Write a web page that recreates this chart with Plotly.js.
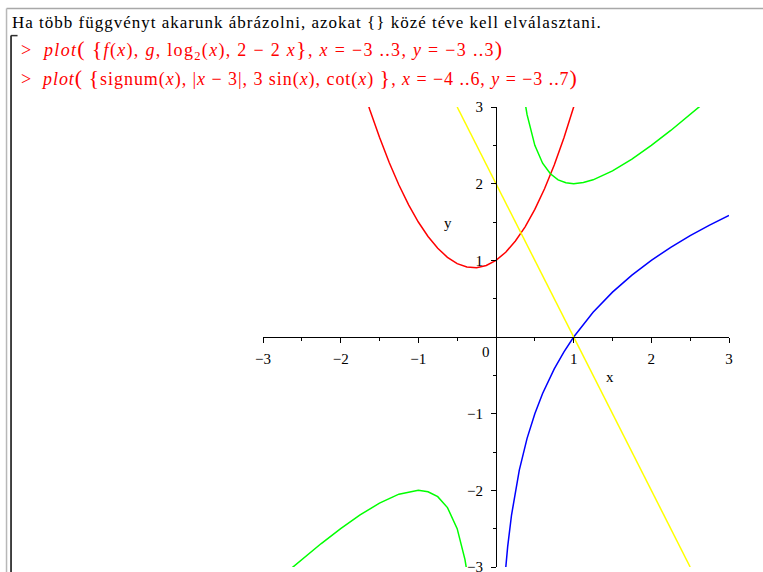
<!DOCTYPE html>
<html>
<head>
<meta charset="utf-8">
<script src="https://cdn.plot.ly/plotly-3.0.1.min.js"></script>
<style>
  html, body { margin: 0; padding: 0; background: #ffffff; }
  #chart { width: 763px; height: 572px; }
</style>
</head>
<body>
<div id="chart"></div>
<script>
// f(x) – red parabola-like curve
const fX = [-1.75, -1.625, -1.5, -1.375, -1.25, -1.125, -1.0, -0.875, -0.75, -0.625, -0.5, -0.375, -0.25, -0.125, 0, 0.125, 0.25, 0.375, 0.5, 0.625, 0.75, 0.875, 1.0, 1.125];
const fY = [3.36, 2.965, 2.604, 2.276, 1.983, 1.724, 1.5, 1.311, 1.157, 1.039, 0.957, 0.912, 0.903, 0.933, 1.0, 1.106, 1.252, 1.437, 1.664, 1.933, 2.244, 2.6, 3.0, 3.447];

// g – green curve, two branches separated by a gap
const gX = [-2.75, -2.5, -2.25, -2.0, -1.75, -1.5, -1.25, -1.0, -0.875, -0.75, -0.625, -0.5, -0.4, -0.35, null,
            0.3, 0.35, 0.4, 0.5, 0.6, 0.7, 0.8, 0.9, 1.0, 1.125, 1.25, 1.5, 1.75, 2.0, 2.25, 2.5, 2.75];
const gY = [-3.114, -2.9, -2.694, -2.5, -2.321, -2.167, -2.05, -2.0, -2.018, -2.083, -2.225, -2.5, -2.9, -3.207, null,
            3.633, 3.207, 2.9, 2.5, 2.267, 2.129, 2.05, 2.011, 2.0, 2.014, 2.05, 2.167, 2.321, 2.5, 2.694, 2.9, 3.114];

// log2(x) – blue
const logX = [0.11, 0.125, 0.15, 0.2, 0.25, 0.3, 0.4, 0.5, 0.6, 0.75, 0.875, 1.0, 1.25, 1.5, 1.75, 2.0, 2.25, 2.5, 2.75, 3.0];
const logY = [-3.184, -3.0, -2.737, -2.322, -2.0, -1.737, -1.322, -1.0, -0.737, -0.415, -0.193, 0, 0.322, 0.585, 0.807, 1.0, 1.17, 1.322, 1.459, 1.585];

// 2 - 2x – yellow line
const linX = [-0.5, 0, 0.5, 1.0, 1.5, 2.0, 2.5];
const linY = [3, 2, 1, 0, -1, -2, -3];

// axis ranges, tick positions and labels
const xRange = [-3, 3];
const yRange = [-3, 3];
const majorTicks = [-3, -2, -1, 1, 2, 3];
const xTitle = 'x';
const yTitle = 'y';
const zeroLabel = '0';

const headerText = 'Ha több függvényt akarunk ábrázolni, azokat {} közé téve kell elválasztani.';
const big = s => "<span style='font-size:22px'>" + s + "</span>";
const spaced = (s, ls) => "<span style='letter-spacing:" + ls + "px'>" + s + "</span>";
const cmd1 = '&gt;  <i>plot</i>' + big('(') + ' ' + big('{') + '<i>f</i>(<i>x</i>), <i>g</i>, log<sub>2</sub>(<i>x</i>), 2 − 2 <i>x</i>' + big('}') +
             ', <i>x</i> = −3 ..3, <i>y</i> = −3 ..3' + big(')');
const cmd2 = '&gt;  <i>plot</i>' + big('(') + ' ' + big('{') + 'signum(<i>x</i>), |<i>x</i> − 3|, 3 sin(<i>x</i>), cot(<i>x</i>) ' + big('}') +
             ', <i>x</i> = −4 ..6, <i>y</i> = −3 ..7' + big(')');

// page geometry
const W = 763, H = 572;
const M = { l: 263.3, r: 34, t: 107.3, b: 5.3 };
const PW = W - M.l - M.r, PH = H - M.t - M.b;
const px = x => (x - M.l) / PW;        // pixel x -> paper x
const py = y => (H - M.b - y) / PH;    // pixel y -> paper y

// axes cross at the origin
const xAxisPos = (0 - yRange[0]) / (yRange[1] - yRange[0]);
const yAxisPos = (0 - xRange[0]) / (xRange[1] - xRange[0]);

const serif = 'Liberation Serif, Times New Roman, serif';
const lineStyle = c => ({ color: c, width: 1.5 });

const traces = [
  { x: fX, y: fY, mode: 'lines', line: lineStyle('#ff0000'), name: 'f(x)' },
  { x: gX, y: gY, mode: 'lines', line: lineStyle('#00ff00'), name: 'g', connectgaps: false },
  { x: logX, y: logY, mode: 'lines', line: lineStyle('#0000ff'), name: 'log2(x)' },
  { x: linX, y: linY, mode: 'lines', line: lineStyle('#ffff00'), name: '2-2x' }
];

const axisCommon = {
  anchor: 'free',
  showline: true, linecolor: '#000000', linewidth: 1,
  showgrid: false, zeroline: false,
  tickmode: 'array', tickvals: majorTicks,
  ticks: 'outside', ticklen: 5, tickwidth: 1, tickcolor: '#000000',
  minor: { tickmode: 'linear', tick0: 0, dtick: 0.5, ticks: 'outside', ticklen: 3, tickwidth: 1, tickcolor: '#000000', showgrid: false },
  tickfont: { family: serif, size: 15, color: '#000000' },
  ticklabeloverflow: 'allow',
  fixedrange: true
};

const layout = {
  width: W, height: H,
  margin: M,
  paper_bgcolor: '#ffffff', plot_bgcolor: '#ffffff',
  showlegend: false,
  xaxis: Object.assign({}, axisCommon, { range: xRange, position: xAxisPos, ticklabelstandoff: 3 }),
  yaxis: Object.assign({}, axisCommon, { range: yRange, position: yAxisPos, ticklabelstandoff: 5 }),
  shapes: [
    // worksheet frame
    { type: 'line', xref: 'paper', yref: 'paper', x0: px(7), x1: px(763), y0: py(9), y1: py(9), line: { color: '#a8a8a8', width: 1.5 } },
    { type: 'line', xref: 'paper', yref: 'paper', x0: px(7), x1: px(7), y0: py(9), y1: py(572), line: { color: '#b8b8b8', width: 1.5 } },
    // execution group bracket
    { type: 'line', xref: 'paper', yref: 'paper', x0: px(11.5), x1: px(11.5), y0: py(36), y1: py(572), line: { color: '#303030', width: 1.8 } },
    { type: 'line', xref: 'paper', yref: 'paper', x0: px(11.5), x1: px(18), y0: py(36), y1: py(36), line: { color: '#303030', width: 1.5 } }
  ],
  annotations: [
    { text: spaced(headerText, 1.0), xref: 'paper', yref: 'paper', x: px(10), y: py(23), xanchor: 'left', yanchor: 'middle', showarrow: false,
      font: { family: serif, size: 17, color: '#000000' } },
    { text: spaced(cmd1, 1.3), xref: 'paper', yref: 'paper', x: px(19), y: py(50), xanchor: 'left', yanchor: 'middle', showarrow: false, align: 'left',
      font: { family: serif, size: 18, color: '#ff0000' } },
    { text: spaced(cmd2, 0.95), xref: 'paper', yref: 'paper', x: px(19), y: py(78), xanchor: 'left', yanchor: 'middle', showarrow: false, align: 'left',
      font: { family: serif, size: 18, color: '#ff0000' } },
    // axis labels
    { text: xTitle, xref: 'x', yref: 'y', x: 1.47, y: -0.52, showarrow: false, font: { family: serif, size: 15, color: '#000000' } },
    { text: yTitle, xref: 'x', yref: 'y', x: -0.62, y: 1.49, showarrow: false, font: { family: serif, size: 15, color: '#000000' } },
    // origin label, set beside the vertical axis
    { text: zeroLabel, xref: 'x', yref: 'y', x: -0.125, y: -0.19, showarrow: false, font: { family: serif, size: 15, color: '#000000' } }
  ]
};

Plotly.newPlot('chart', traces, layout, { displayModeBar: false, staticPlot: true });
</script>
</body>
</html>
